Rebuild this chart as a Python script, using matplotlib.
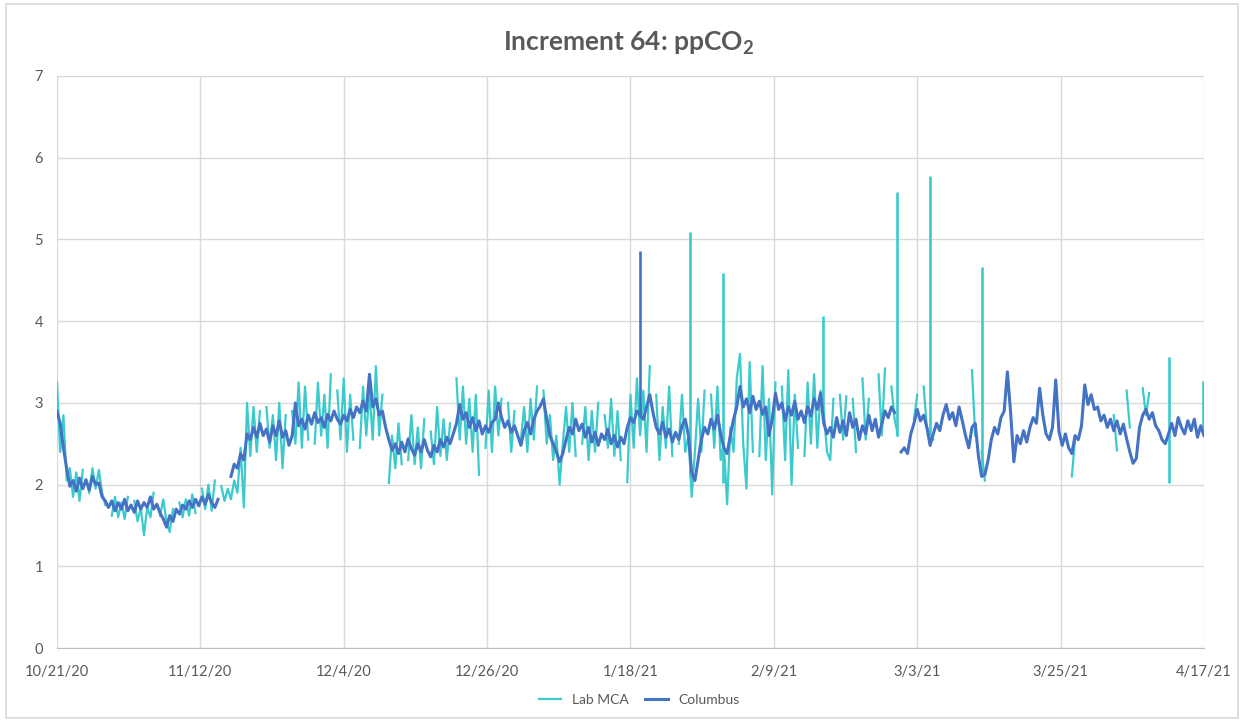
import numpy as np
import pandas as pd
import matplotlib
matplotlib.use('Agg')
import matplotlib.pyplot as plt
import matplotlib.dates as mdates
from matplotlib.patches import Rectangle

plt.rcParams['font.family'] = ['Lato', 'DejaVu Sans']
plt.rcParams['mathtext.default'] = 'regular'

N = np.nan

# readings every half day starting 10/21/20
start = '2020-10-21'
step_days = 0.5

columbus = [
    2.90, 2.75, 2.45, 2.20, 1.98, 2.05, 1.92, 2.08, 1.95, 2.06, 1.93, 2.10, 2.00, 2.02, 1.85, 1.80, 1.72, 1.80, 1.68, 1.78,
    1.70, 1.82, 1.68, 1.75, 1.66, 1.80, 1.70, 1.78, 1.72, 1.85, 1.70, 1.76, 1.65, 1.58, 1.48, 1.62, 1.55, 1.70, 1.64, 1.75,
    1.70, 1.80, 1.72, 1.82, 1.74, 1.85, 1.76, 1.88, 1.78, 1.72, 1.82, N, N, N, 2.10, 2.25, 2.20, 2.38, 2.30, 2.62,
    2.55, 2.70, 2.58, 2.75, 2.60, 2.68, 2.52, 2.72, 2.60, 2.78, 2.58, 2.66, 2.48, 2.60, 3.00, 2.72, 2.80, 2.68, 2.85, 2.74,
    2.88, 2.76, 2.82, 2.70, 2.86, 2.78, 2.90, 2.80, 2.74, 2.85, 2.78, 2.92, 2.82, 2.95, 2.88, 3.02, 2.90, 3.35, 2.95, 3.05,
    2.85, 2.90, 2.70, 2.55, 2.42, 2.50, 2.38, 2.52, 2.40, 2.56, 2.44, 2.36, 2.50, 2.40, 2.55, 2.42, 2.34, 2.48, 2.40, 2.55,
    2.46, 2.58, 2.50, 2.62, 2.75, 2.98, 2.80, 2.88, 2.70, 2.82, 2.66, 2.78, 2.62, 2.72, 2.64, 2.76, 2.80, 3.00, 2.82, 2.70,
    2.78, 2.64, 2.72, 2.60, 2.48, 2.66, 2.76, 2.62, 2.80, 2.90, 2.96, 3.05, 2.80, 2.60, 2.50, 2.40, 2.28, 2.38, 2.55, 2.70,
    2.62, 2.80, 2.66, 2.74, 2.58, 2.70, 2.52, 2.64, 2.48, 2.62, 2.55, 2.68, 2.50, 2.60, 2.46, 2.58, 2.50, 2.70, 2.82, 2.76,
    2.90, 2.85, 2.80, 2.95, 3.10, 2.88, 2.70, 2.62, 2.76, 2.58, 2.68, 2.52, 2.64, 2.55, 2.72, 2.80, 2.60, 2.15, 2.05, 2.30,
    2.55, 2.70, 2.62, 2.80, 2.68, 2.85, 2.62, 2.45, 2.38, 2.60, 2.80, 2.95, 3.20, 2.95, 3.05, 2.88, 3.08, 2.92, 3.02, 2.86,
    2.95, 2.60, 2.80, 3.12, 2.92, 3.00, 2.78, 2.95, 2.85, 3.02, 2.80, 2.90, 2.76, 2.95, 2.84, 3.05, 2.92, 3.12, 2.75, 2.62,
    2.70, 2.58, 2.82, 2.64, 2.78, 2.60, 2.88, 2.70, 2.80, 2.55, 2.72, 2.62, 2.85, 2.66, 2.80, 2.58, 2.74, 2.90, 2.82, 2.95,
    2.88, N, 2.40, 2.45, 2.38, 2.62, 2.75, 2.92, 2.78, 2.85, 2.70, 2.48, 2.62, 2.75, 2.66, 2.85, 2.98, 2.80, 2.88, 2.72,
    2.95, 2.78, 2.60, 2.45, 2.70, 2.75, 2.35, 2.10, 2.12, 2.30, 2.55, 2.70, 2.62, 2.82, 2.90, 3.38, 2.88, 2.28, 2.60, 2.50,
    2.66, 2.52, 2.70, 2.82, 2.75, 3.18, 2.85, 2.62, 2.55, 2.70, 3.28, 2.65, 2.48, 2.62, 2.45, 2.38, 2.60, 2.55, 2.72, 3.22,
    2.98, 3.10, 2.92, 2.95, 2.78, 2.85, 2.70, 2.80, 2.66, 2.78, 2.62, 2.74, 2.56, 2.40, 2.26, 2.32, 2.70, 2.85, 2.92, 2.80,
    2.88, 2.72, 2.66, 2.55, 2.50, 2.62, 2.75, 2.60, 2.82, 2.70, 2.62, 2.78, 2.66, 2.80, 2.58, 2.72, 2.60,
]

lab_mca = [
    3.25, 2.40, 2.85, 2.05, 2.20, 1.85, 2.15, 1.80, 2.18, N, 1.90, 2.20, 1.95, 2.18, 1.90, 1.75, N, 1.62, 1.85, 1.60,
    1.78, 1.58, 1.85, N, 1.80, 1.55, 1.72, 1.38, 1.72, 1.60, 1.90, N, 1.62, 1.82, 1.55, 1.42, 1.70, N, 1.78, 1.60,
    1.82, 1.62, 1.88, 1.65, N, 1.95, 1.70, 2.00, 1.68, 2.05, N, 1.98, 1.80, 1.95, 1.82, 2.05, 1.90, 2.45, 1.72, 3.00,
    2.35, 2.95, 2.40, 2.90, N, 2.95, 2.45, 2.85, 2.30, 3.00, 2.20, 2.85, N, 2.90, 2.50, 3.25, 2.45, 3.20, 2.55, N,
    2.50, 3.25, 2.60, 3.10, 2.45, 3.35, N, 3.15, 2.55, 3.30, 2.40, 3.10, 2.55, N, 2.45, 3.20, 2.60, 3.15, 2.55, 3.45,
    2.60, 3.10, N, 2.02, 2.60, 2.20, 2.75, 2.25, N, 2.30, 2.85, 2.25, 2.70, 2.20, 2.80, N, 2.65, 2.25, 2.95, 2.35,
    2.80, 2.30, 2.75, N, 3.30, 2.55, 3.20, 2.50, 3.05, 2.40, 3.10, 2.12, N, 2.45, 3.15, 2.40, 3.20, 2.60, 3.05, N,
    3.00, 2.40, 2.90, N, 2.55, 2.95, 2.40, 3.05, 2.55, 3.20, N, 3.15, 2.50, 2.85, 2.30, 2.60, 2.00, 2.50, 2.95, 2.40,
    3.00, 2.35, N, 2.50, 2.95, 2.30, 2.90, 2.40, 3.00, N, 2.85, 2.45, 3.05, 2.35, 2.90, 2.30, N, 2.03, 3.10, 2.45,
    3.30, 2.60, 3.15, 2.40, 3.45, N, 3.10, 2.30, 2.95, 2.45, 3.20, 2.35, N, 2.50, 3.10, 2.40, 2.60, 1.85, 2.40, 3.05,
    2.40, 3.15, N, 3.10, 2.45, 3.20, 2.30, 2.50, 1.76, 2.70, 2.40, 3.30, 3.60, 2.50, 1.95, 3.50, 2.40, N, 2.35, 3.45,
    2.30, 3.05, 1.88, 3.25, N, 3.20, 2.30, 3.40, 2.00, 3.10, 2.45, N, 2.35, 3.25, 2.50, 3.35, 2.45, 3.15, 2.90, 2.40,
    2.30, 3.05, N, 3.10, 2.55, 3.08, N, 3.05, 2.40, N, 3.30, 2.55, 3.05, N, N, 3.35, 2.60, 3.42, N, 3.20,
    2.80, 2.60, N, N, 3.00, N, 2.80, 3.10, N, 3.20, 2.70, 2.60, 2.55, N, N, N, N, N, N, N,
    N, N, N, N, 3.40, 2.60, N, 2.40, 2.05, N, N, N, N, N, N, N, N, N, N, N,
    N, N, N, N, N, N, N, N, N, N, N, N, N, N, N, 2.10, 2.55, N, N, N,
    N, N, N, N, N, N, N, N, 2.85, 2.42, N, N, 3.15, 2.70, N, N, N, 3.18, 2.85, 3.12,
    N, N, N, N, N, N, N, N, N, N, N, N, N, N, N, N, N,
]

# isolated spikes (day offset from start, base value, peak value)
lab_spike_days = [98.2, 103.4, 118.9, 130.3, 135.5, 143.5, 172.6, 177.9]
lab_spike_base = [2.09, 2.02, 2.91, 2.60, 2.58, 2.10, 2.02, 2.62]
lab_spike_top = [5.09, 4.59, 4.06, 5.58, 5.78, 4.66, 3.56, 3.27]

col_spike_days = [90.5]
col_spike_base = [2.83]
col_spike_top = [4.86]

tick_labels = ['10/21/20', '11/12/20', '12/4/20', '12/26/20', '1/18/21',
               '2/9/21', '3/3/21', '3/25/21', '4/17/21']

t0 = pd.Timestamp(start)
dates = t0 + pd.to_timedelta(np.arange(len(columbus)) * step_days, unit='D')
tick_pos = t0 + pd.to_timedelta(np.linspace(0, 178, len(tick_labels)), unit='D')
lab_spike_t = t0 + pd.to_timedelta(lab_spike_days, unit='D')
col_spike_t = t0 + pd.to_timedelta(col_spike_days, unit='D')

cyan = '#3CCACC'
blue = '#4472C4'

fig = plt.figure(figsize=(12.44, 7.21), dpi=100)
ax = fig.add_axes([0.0458, 0.1012, 0.9220, 0.7934])

ax.plot(dates, lab_mca, color=cyan, lw=1.6, label='Lab MCA')
ax.vlines(lab_spike_t, lab_spike_base, lab_spike_top, color=cyan, lw=1.9)
ax.plot(dates, columbus, color=blue, lw=2.2, label='Columbus')
ax.vlines(col_spike_t, col_spike_base, col_spike_top, color=blue, lw=1.9)

ax.set_ylim(0, 7)
ax.set_xlim(tick_pos[0], tick_pos[-1])
ax.set_yticks(range(8))
ax.set_xticks(mdates.date2num(tick_pos))
ax.set_xticklabels(tick_labels)
ax.grid(True, color='#D9D9D9', lw=1.0)
ax.set_axisbelow(True)
for s in ['top', 'right', 'left']:
    ax.spines[s].set_visible(False)
ax.spines['bottom'].set_color('#BFBFBF')
ax.tick_params(length=0, colors='#595959', labelsize=10.5)
ax.tick_params(axis='x', pad=12)
ax.tick_params(axis='y', pad=10)

fig.text(0.505, 0.94, 'Increment 64: ppCO$_2$', ha='center', va='center',
         fontsize=19, fontweight='bold', color='#595959')

fig.legend(loc='center', bbox_to_anchor=(0.514, 0.029), ncol=2, frameon=False,
           fontsize=10, labelcolor='#595959', handlelength=1.6, columnspacing=1.2)

fig.add_artist(Rectangle((0.005, 0.004), 0.99, 0.99, transform=fig.transFigure,
                         fill=False, edgecolor='#D9D9D9', lw=1.2))

plt.savefig('out.png', dpi=100)
